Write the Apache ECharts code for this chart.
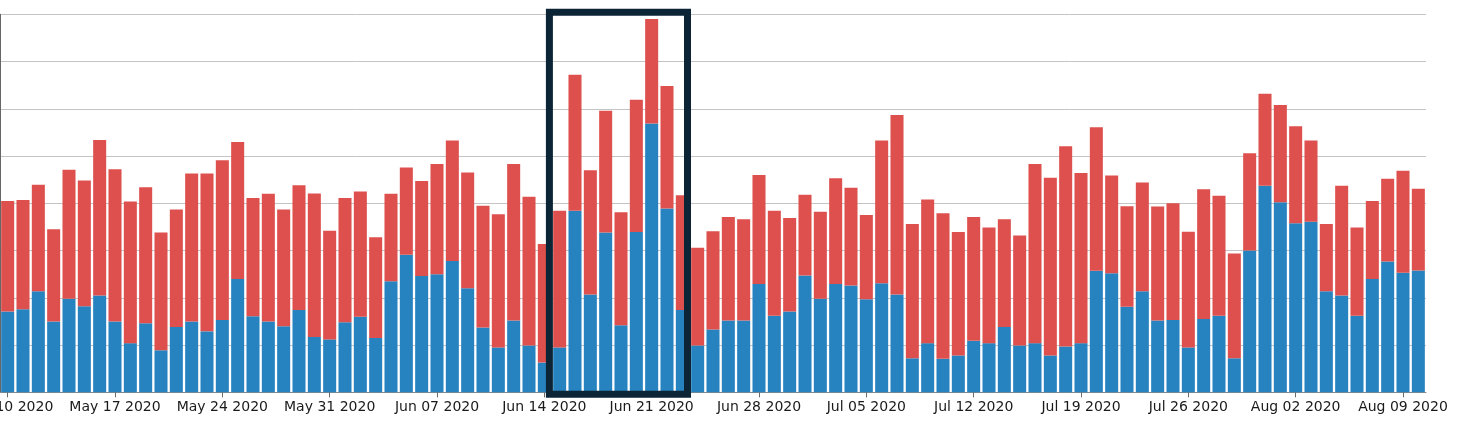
<!DOCTYPE html>
<html>
<head>
<meta charset="utf-8">
<script src="https://cdn.jsdelivr.net/npm/echarts@6/dist/echarts.min.js"></script>
<style>
html,body{margin:0;padding:0;background:#fff;}
#c{width:1457px;height:432px;}
</style>
</head>
<body>
<div id="c"></div>
<script>
const categories = [
 'May 10 2020','May 11 2020','May 12 2020','May 13 2020','May 14 2020','May 15 2020','May 16 2020',
 'May 17 2020','May 18 2020','May 19 2020','May 20 2020','May 21 2020','May 22 2020','May 23 2020',
 'May 24 2020','May 25 2020','May 26 2020','May 27 2020','May 28 2020','May 29 2020','May 30 2020',
 'May 31 2020','Jun 01 2020','Jun 02 2020','Jun 03 2020','Jun 04 2020','Jun 05 2020','Jun 06 2020',
 'Jun 07 2020','Jun 08 2020','Jun 09 2020','Jun 10 2020','Jun 11 2020','Jun 12 2020','Jun 13 2020',
 'Jun 14 2020','Jun 15 2020','Jun 16 2020','Jun 17 2020','Jun 18 2020','Jun 19 2020','Jun 20 2020',
 'Jun 21 2020','Jun 22 2020','Jun 23 2020','Jun 24 2020','Jun 25 2020','Jun 26 2020','Jun 27 2020',
 'Jun 28 2020','Jun 29 2020','Jun 30 2020','Jul 01 2020','Jul 02 2020','Jul 03 2020','Jul 04 2020',
 'Jul 05 2020','Jul 06 2020','Jul 07 2020','Jul 08 2020','Jul 09 2020','Jul 10 2020','Jul 11 2020',
 'Jul 12 2020','Jul 13 2020','Jul 14 2020','Jul 15 2020','Jul 16 2020','Jul 17 2020','Jul 18 2020',
 'Jul 19 2020','Jul 20 2020','Jul 21 2020','Jul 22 2020','Jul 23 2020','Jul 24 2020','Jul 25 2020',
 'Jul 26 2020','Jul 27 2020','Jul 28 2020','Jul 29 2020','Jul 30 2020','Jul 31 2020','Aug 01 2020',
 'Aug 02 2020','Aug 03 2020','Aug 04 2020','Aug 05 2020','Aug 06 2020','Aug 07 2020','Aug 08 2020',
 'Aug 09 2020','Aug 10 2020'
];

// lower (blue) segment
const blueValues = [
 171,176,214,150,198,182,205,
 150,104,146,89,138,150,129,
 153,240,161,150,140,174,117,
 112,148,160,115,235,291,246,
 250,278,220,137,95,152,99,
 63,95,384,207,338,142,339,
 569,389,174,99,133,152,152,
 229,162,171,247,198,229,226,
 197,231,207,72,104,71,78,
 109,104,138,99,104,78,97,
 104,257,252,181,214,152,153,
 95,155,162,72,300,437,402,
 358,361,214,205,162,240,277,
 253,258
];

// upper (red) segment
const redValues = [
 234,231,225,195,273,266,329,
 322,300,288,249,249,313,334,
 338,290,250,270,247,264,304,
 230,263,265,213,185,185,201,
 233,255,245,258,282,331,315,
 251,289,288,263,258,239,280,
 221,259,243,207,208,219,214,
 231,222,198,171,184,224,207,
 178,302,380,284,304,308,261,
 262,245,228,233,379,376,424,
 360,304,207,213,230,241,247,
 245,275,254,222,206,195,206,
 205,172,142,232,187,165,175,
 216,173
];

// highlighted range (first and last category inside the box)
const highlightRange = ['Jun 15 2020', 'Jun 23 2020'];

const yMax = 800;
const yStep = 100;

const chart = echarts.init(document.getElementById('c'), null, {renderer: 'canvas'});

const option = {
  animation: false,
  backgroundColor: '#ffffff',
  grid: {left: 0, right: 31, top: 14.3, bottom: 39.7, containLabel: false, outerBoundsMode: 'none'},
  xAxis: {
    type: 'category',
    data: categories,
    boundaryGap: true,
    axisLine: {show: true, lineStyle: {color: '#8a8a8a', width: 1}},
    axisTick: {show: true, interval: 6, alignWithLabel: true, length: 5, lineStyle: {color: '#6a6a6a'}},
    axisLabel: {
      interval: 6,
      margin: 8,
      color: '#1a1a1a',
      fontSize: 14,
      fontFamily: 'DejaVu Sans',
      hideOverlap: false
    },
    splitLine: {show: false}
  },
  yAxis: {
    type: 'value',
    min: 0,
    max: yMax,
    interval: yStep,
    axisLine: {show: true, lineStyle: {color: '#666666', width: 1}},
    axisTick: {show: false},
    axisLabel: {show: false},
    splitLine: {show: true, lineStyle: {color: '#c4c4c4', width: 1}}
  },
  series: [
    {
      name: 'blue',
      type: 'bar',
      stack: 'total',
      data: blueValues,
      barCategoryGap: '15%',
      itemStyle: {color: '#2683c0'}
    },
    {
      name: 'red',
      type: 'bar',
      stack: 'total',
      data: redValues,
      barCategoryGap: '15%',
      itemStyle: {color: '#dd504e'}
    }
  ]
};

chart.setOption(option);

// highlight box positioned through the axes
const c0 = chart.convertToPixel({xAxisIndex: 0}, highlightRange[0]);
const c1 = chart.convertToPixel({xAxisIndex: 0}, highlightRange[1]);
const band = chart.convertToPixel({xAxisIndex: 0}, categories[1]) - chart.convertToPixel({xAxisIndex: 0}, categories[0]);
const yTop = chart.convertToPixel({yAxisIndex: 0}, yMax);
const yBot = chart.convertToPixel({yAxisIndex: 0}, 0);
const x0 = c0 - band / 2 - 2.6;
const x1 = c1 + band / 2 - 2.5;
chart.setOption({
  graphic: [{
    type: 'rect',
    z: 100,
    shape: {x: x0, y: yTop - 2, width: x1 - x0, height: (yBot + 2) - (yTop - 2)},
    style: {fill: 'none', stroke: '#0c2536', lineWidth: 7, lineJoin: 'miter'}
  }]
});
</script>
</body>
</html>
